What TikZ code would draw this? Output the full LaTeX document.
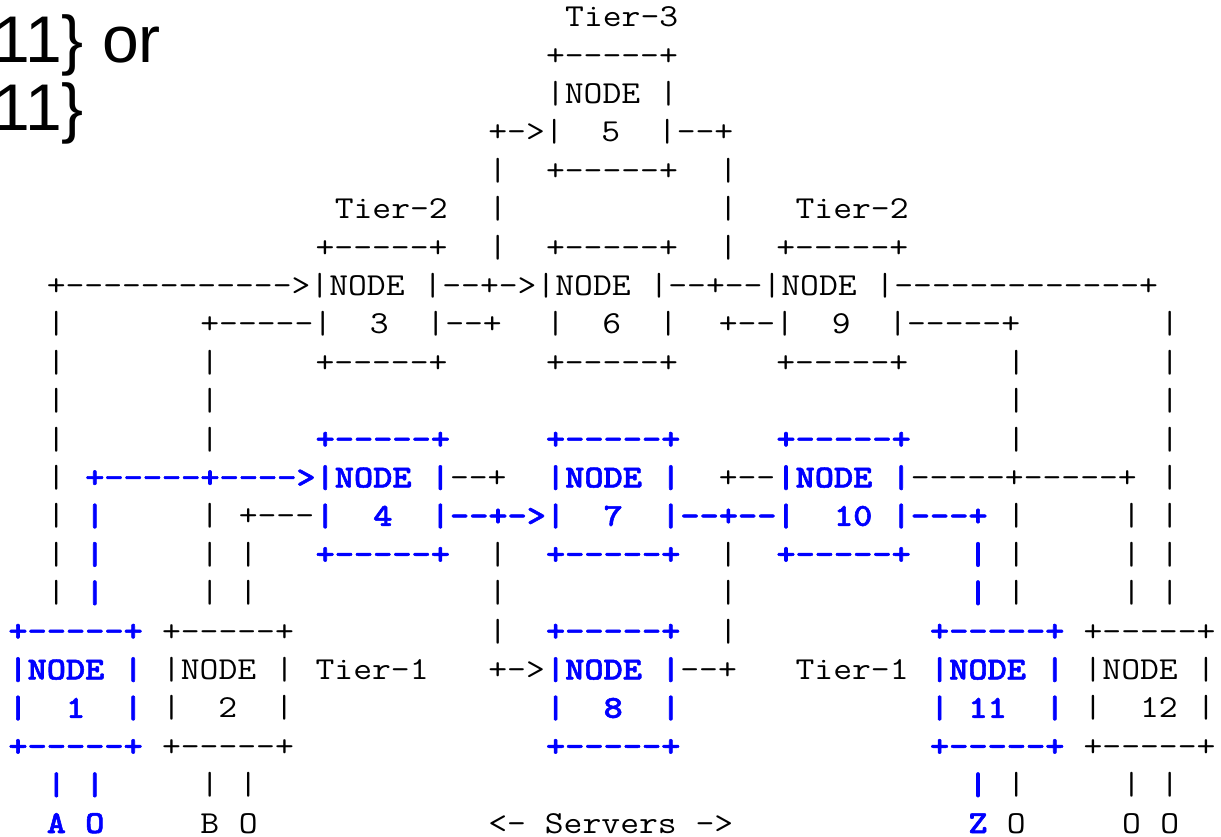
\documentclass[tikz,border=0pt]{standalone}
\usepackage{fontspec}
\usepackage{graphicx}
\newfontfamily\arialfont{Liberation Sans}
\newfontfamily\monobold{lmmonolt10-bold.otf}[FakeBold=1.6]
\definecolor{nodeblue}{RGB}{0,0,255}
\tikzset{
  txt/.style={anchor=base west, inner sep=0pt, outer sep=0pt, text=black,
    font=\ttfamily\fontsize{32}{38}\selectfont},
  blu/.style={txt, text=nodeblue, font=\monobold\fontsize{32}{38}\selectfont},
  big/.style={anchor=base west, inner sep=0pt, font=\arialfont\fontsize{66}{72}\selectfont}
}
\newcommand\T[3]{\node[txt] (c#1r#2) at ({8.4+19.2*#1},{-(26.6+38.4*#2)}) {\scalebox{1.1429}[1]{#3}};}
\newcommand\B[3]{\node[blu] (c#1r#2) at ({8.4+19.2*#1},{-(26.6+38.4*#2)}) {\scalebox{1.1429}[1]{#3}};}
\begin{document}
\begin{tikzpicture}[x=1pt,y=1pt]
\useasboundingbox (0,0) rectangle (1221,-836);
\node[big] (l1) at (-7,-62) {11\} or};
\node[big] (l2) at (-7,-130) {11\}};
% row 0
\T{29}{0}{Tier-3}
% row 1
\T{28}{1}{+-----+}
% row 2
\T{28}{2}{|NODE~|}
% row 3
\T{25}{3}{+->|~~5~~|--+}
% row 4
\T{25}{4}{|}\T{28}{4}{+-----+}\T{37}{4}{|}
% row 5
\T{17}{5}{Tier-2}\T{25}{5}{|}\T{37}{5}{|}\T{41}{5}{Tier-2}
% row 6
\T{16}{6}{+-----+}\T{25}{6}{|}\T{28}{6}{+-----+}\T{37}{6}{|}\T{40}{6}{+-----+}
% row 7
\T{2}{7}{+------------>|NODE~|--+->|NODE~|--+--|NODE~|-------------+}
% row 8
\T{2}{8}{|}\T{10}{8}{+-----|~~3~~|--+}\T{28}{8}{|~~6~~|}\T{37}{8}{+--|~~9~~|-----+}\T{60}{8}{|}
% row 9
\T{2}{9}{|}\T{10}{9}{|}\T{16}{9}{+-----+}\T{28}{9}{+-----+}\T{40}{9}{+-----+}\T{52}{9}{|}\T{60}{9}{|}
% row 10
\T{2}{10}{|}\T{10}{10}{|}\T{52}{10}{|}\T{60}{10}{|}
% row 11
\T{2}{11}{|}\T{10}{11}{|}\B{16}{11}{+-----+}\B{28}{11}{+-----+}\B{40}{11}{+-----+}\T{52}{11}{|}\T{60}{11}{|}
% row 12
\T{2}{12}{|}\B{4}{12}{+-----+---->|NODE~|}\T{23}{12}{--+}\B{28}{12}{|NODE~|}\T{37}{12}{+--}\B{40}{12}{|NODE~|}\T{47}{12}{-----+-----+}\T{60}{12}{|}
% row 13
\T{2}{13}{|}\B{4}{13}{|}\T{10}{13}{|}\T{12}{13}{+---}\B{16}{13}{|~~4~~|--+->|~~7~~|--+--|~~10~|---+}\T{52}{13}{|}\T{58}{13}{|}\T{60}{13}{|}
% row 14
\T{2}{14}{|}\B{4}{14}{|}\T{10}{14}{|}\T{12}{14}{|}\B{16}{14}{+-----+}\T{25}{14}{|}\B{28}{14}{+-----+}\T{37}{14}{|}\B{40}{14}{+-----+}\B{50}{14}{|}\T{52}{14}{|}\T{58}{14}{|}\T{60}{14}{|}
% row 15
\T{2}{15}{|}\B{4}{15}{|}\T{10}{15}{|}\T{12}{15}{|}\T{25}{15}{|}\T{37}{15}{|}\B{50}{15}{|}\T{52}{15}{|}\T{58}{15}{|}\T{60}{15}{|}
% row 16
\B{0}{16}{+-----+}\T{8}{16}{+-----+}\T{25}{16}{|}\B{28}{16}{+-----+}\T{37}{16}{|}\B{48}{16}{+-----+}\T{56}{16}{+-----+}
% row 17
\B{0}{17}{|NODE~|}\T{8}{17}{|NODE~|}\T{16}{17}{Tier-1}\T{25}{17}{+->}\B{28}{17}{|NODE~|}\T{35}{17}{--+}\T{41}{17}{Tier-1}\B{48}{17}{|NODE~|}\T{56}{17}{|NODE~|}
% row 18
\B{0}{18}{|~~1~~|}\T{8}{18}{|~~2~~|}\B{28}{18}{|~~8~~|}\B{48}{18}{|~11~~|}\T{56}{18}{|~~12~|}
% row 19
\B{0}{19}{+-----+}\T{8}{19}{+-----+}\B{28}{19}{+-----+}\B{48}{19}{+-----+}\T{56}{19}{+-----+}
% row 20
\B{2}{20}{|}\B{4}{20}{|}\T{10}{20}{|}\T{12}{20}{|}\B{50}{20}{|}\T{52}{20}{|}\T{58}{20}{|}\T{60}{20}{|}
% row 21
\B{2}{21}{A}\B{4}{21}{O}\T{10}{21}{B}\T{12}{21}{O}\T{25}{21}{<-~Servers~->}\B{50}{21}{Z}\T{52}{21}{O}\T{58}{21}{O}\T{60}{21}{O}
\end{tikzpicture}
\end{document}
